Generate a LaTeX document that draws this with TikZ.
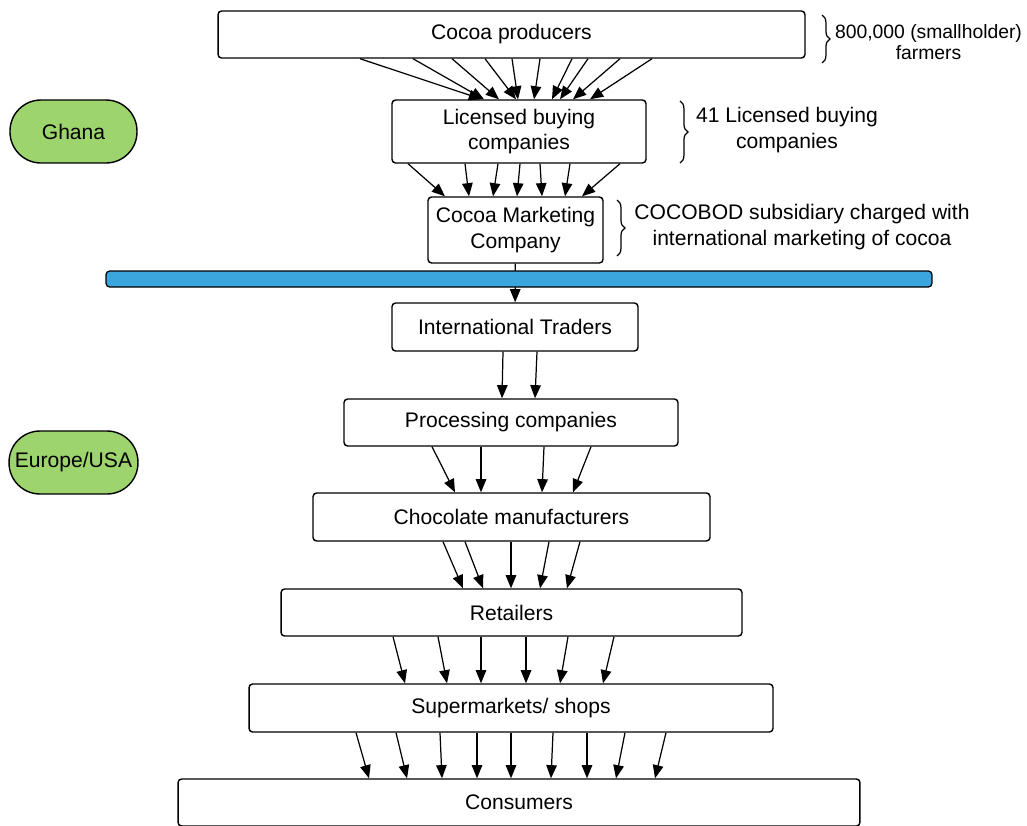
\documentclass[tikz,border=0pt]{standalone}
\usepackage{fontspec}
\setmainfont{Liberation Sans}
\usetikzlibrary{arrows.meta,positioning,decorations.pathreplacing}
\definecolor{regionc}{HTML}{9DD46E}
\definecolor{barc}{HTML}{3AA6DD}
\tikzset{
  box/.style={draw=black, line width=0.8pt, rounded corners=2pt, fill=white, inner sep=2pt,
    align=center, font=\fontsize{12}{14.4}\selectfont},
  region/.style={draw=black, line width=0.8pt, rounded corners=0.62cm, fill=regionc,
    minimum width=2.54cm, minimum height=1.26cm, font=\fontsize{12}{14.4}\selectfont},
  sea/.style={draw=black, line width=0.7pt, rounded corners=2pt, fill=barc, inner sep=0pt},
  flow/.style={-{Triangle[length=7.5pt,width=6pt]}, line width=0.7pt},
  brc/.style={decorate, decoration={brace, amplitude=4.5pt}, line width=0.7pt},
  note/.style={align=center, font=\fontsize{12}{14.4}\selectfont},
}
\begin{document}
\begin{tikzpicture}[x=0.02cm, y=-0.02cm]
  \useasboundingbox (0,0) rectangle (1027,825);
  % chain of boxes
  \node[box, minimum width=11.74cm, minimum height=0.94cm] (prod) at (511.5,34.5) {Cocoa producers};
  \node[box, minimum width=5.08cm, minimum height=1.26cm] (lbc) at (519,131.5) {Licensed buying\\companies};
  \node[box, minimum width=3.5cm, minimum height=1.32cm] (cmc) at (515.5,230) {Cocoa Marketing\\Company};
  \node[box, minimum width=4.92cm, minimum height=0.96cm] (trad) at (515,327) {International Traders};
  \node[box, minimum width=6.68cm, minimum height=0.94cm] (proc) at (511,422.5) {Processing companies};
  \node[box, minimum width=7.94cm, minimum height=0.96cm] (choc) at (511.5,517) {Chocolate manufacturers};
  \node[box, minimum width=9.22cm, minimum height=0.94cm] (ret) at (511.5,612.5) {Retailers};
  \node[box, minimum width=10.48cm, minimum height=0.96cm] (shop) at (511,708) {Supermarkets/ shops};
  \node[box, minimum width=13.64cm, minimum height=0.94cm] (cons) at (519,802.5) {Consumers};

  \node[region] (ghana) at (73.5,131.5) {Ghana};
  \node[region] (eu) at (73.5,462.5) {Europe/USA};

  % flows
  \foreach \a/\b in {360/482, 413/484, 452/499, 485/516, 512/518, 540/534, 572/552, 588/560, 620/573, 652/590}
    \draw[flow] (prod.south -| \a,0) -- (lbc.north -| \b,0);
  \foreach \a/\b in {408/445, 465/469, 498/493, 520/517, 540/542, 570/565, 620/582}
    \draw[flow] (lbc.south -| \a,0) -- (cmc.north -| \b,0);
  \draw[flow] (cmc) -- (trad);
  \foreach \a/\b in {503/502, 537/535}
    \draw[flow] (trad.south -| \a,0) -- (proc.north -| \b,0);
  \foreach \a/\b in {432/455, 481/481, 544/542, 591/573}
    \draw[flow] (proc.south -| \a,0) -- (choc.north -| \b,0);
  \foreach \a/\b in {443/463, 465/483, 511/511, 549/540, 580/567}
    \draw[flow] (choc.south -| \a,0) -- (ret.north -| \b,0);
  \foreach \a/\b in {393/405, 438/447, 481/481, 526/526, 568/560, 614/603}
    \draw[flow] (ret.south -| \a,0) -- (shop.north -| \b,0);
  \foreach \a/\b in {356/369, 396/407, 440/442, 477/477, 511/511, 553/551, 587/587, 625/616, 666/655}
    \draw[flow] (shop.south -| \a,0) -- (cons.north -| \b,0);

  \node[sea, minimum width=16.52cm, minimum height=0.32cm] (bar) at (519,279) {};

  % notes
  \coordinate (b1t) at (822,15);  \coordinate (b1b) at (822,63);
  \coordinate (b2t) at (680,101); \coordinate (b2b) at (680,163);
  \coordinate (b3t) at (617,200); \coordinate (b3b) at (617,256);
  \draw[brc] (b1t) -- (b1b);
  \draw[brc] (b2t) -- (b2b);
  \draw[brc] (b3t) -- (b3b);
  \node[note, font=\fontsize{11}{12}\selectfont] (n1) at (928.5,42) {800,000 (smallholder)\\farmers};
  \node[note] (n2) at (787,130) {41 Licensed buying\\companies};
  \node[note] (n3) at (802,227) {COCOBOD subsidiary charged with\\international marketing of cocoa};
\end{tikzpicture}
\end{document}
